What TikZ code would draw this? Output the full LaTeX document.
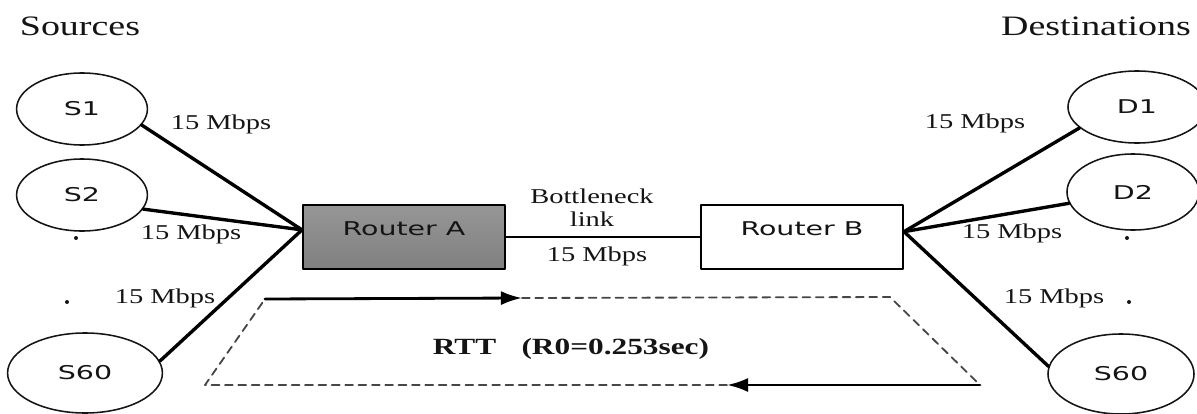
\documentclass[tikz,border=0pt]{standalone}
\usepackage{fontspec}
\setmainfont{Liberation Serif}[FakeStretch=1.35]
\newfontfamily\boxfont{DejaVu Sans}[FakeStretch=1.5]
\usetikzlibrary{shapes.geometric,arrows.meta}

\begin{document}
\begin{tikzpicture}[x=0.025cm,y=-0.025cm,line cap=round,line join=round,
  host/.style={ellipse,draw=inkgray,line width=1.1pt,inner sep=0pt,
    font=\boxfont\fontsize{13.5}{16}\selectfont,text=inkgray},
  router/.style={rectangle,draw=black,line width=1.4pt,minimum width=5.05cm,
    minimum height=1.6cm,text height=10pt,text depth=12pt,
    font=\boxfont\fontsize{13.5}{16}\selectfont,text=inkgray},
  rate/.style={font=\fontsize{15}{17}\selectfont,text=inkgray,inner sep=0pt},
  heading/.style={font=\fontsize{20}{23}\selectfont,text=inkgray,inner sep=0pt},
  link/.style={line width=2.4pt},
  rttsolid/.style={line width=2pt,-{Latex[length=15pt,width=10pt]}},
  rttdash/.style={line width=1.3pt,draw=dashgray,dash pattern=on 5.5pt off 4pt}]
  \definecolor{inkgray}{RGB}{20,20,20}
  \definecolor{dashgray}{RGB}{70,70,70}
  \definecolor{routertop}{RGB}{150,150,150}
  \definecolor{routerbot}{RGB}{128,128,128}

  \useasboundingbox (0,0) rectangle (1197,414);

  % headings
  \node[heading] (srchead) at (80,26) {Sources};
  \node[heading] (dsthead) at (1096,26) {Destinations};

  % source hosts
  \node[host,minimum width=3.27cm,minimum height=1.8cm] (s1) at (82,109) {S1};
  \node[host,minimum width=3.27cm,minimum height=1.8cm] (s2) at (82,195) {S2};
  \node[host,minimum width=3.87cm,minimum height=2cm] (s60l) at (85,373) {S60};
  \fill[inkgray] (76,238) circle (2) (67,302) circle (2);

  % destination hosts
  \node[host,minimum width=3.45cm,minimum height=1.8cm] (d1) at (1137,107) {D1};
  \node[host,minimum width=3.3cm,minimum height=1.9cm] (d2) at (1133,192) {D2};
  \node[host,minimum width=3.65cm,minimum height=2cm] (s60r) at (1121,374) {S60};
  \fill[inkgray] (1127,238) circle (2) (1129,302) circle (2);

  % routers
  \node[router,top color=routertop,bottom color=routerbot] (ra) at (404,237) {Router A};
  \node[router,fill=white] (rb) at (802,237) {Router B};

  % access links
  \draw[link] (s1.-15) -- (ra.176);
  \draw[link] (s2.-13) -- (ra.176);
  \draw[link] (s60l.9) -- (ra.176);
  \draw[link] (rb.3) -- (d1.200);
  \draw[link] (rb.3) -- (d2.190);
  \draw[link] (rb.3) -- (s60r.174);
  \node[rate] (r1) at (221,124) {15 Mbps};
  \node[rate] (r2) at (191,234) {15 Mbps};
  \node[rate] (r60) at (165,298) {15 Mbps};
  \node[rate] (rd1) at (975,123) {15 Mbps};
  \node[rate] (rd2) at (1012,233) {15 Mbps};
  \node[rate] (rd60) at (1054,298) {15 Mbps};

  % bottleneck
  \draw[line width=2pt] (ra.east) -- (rb.west);
  \node[rate] (bneck) at (592,196) {Bottleneck};
  \node[rate] (blink) at (592,219) {link};
  \node[rate] (brate) at (597,256) {15 Mbps};

  % round trip
  \coordinate (rtttl) at (265,299);
  \coordinate (rtttm) at (522,298);
  \coordinate (rtttr) at (890,297);
  \coordinate (rttbr) at (980,385);
  \coordinate (rttbm) at (727,385);
  \coordinate (rttbl) at (205,385);
  \draw[rttsolid] (rtttl) -- (rtttm);
  \draw[rttdash] (rtttm) -- (rtttr) -- (rttbr);
  \draw[rttsolid] (rttbr) -- (rttbm);
  \draw[rttdash] (rttbm) -- (rttbl) -- (rtttl);
  \node[font=\bfseries\fontsize{16.5}{19}\selectfont,text=inkgray] (rtt) at (571,349)
    {RTT\hspace{18pt}(R0=0.253sec)};
\end{tikzpicture}
\end{document}
